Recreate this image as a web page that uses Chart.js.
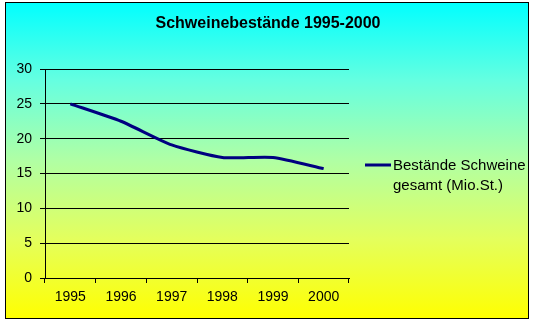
<!DOCTYPE html>
<html>
<head>
    <meta charset="UTF-8">
    <title>Schweinebestände</title>
    <script src="https://cdn.jsdelivr.net/npm/chart.js"></script>
    <style>
        body { margin: 0; background: #fff; }
    </style>
</head>
<body>
<canvas id="schweine" width="536" height="327"></canvas>
<script>
    // Bestände in Mio. Stück
    const years = ['1995', '1996', '1997', '1998', '1999', '2000'];
    const bestand = [25.0, 22.5, 19.1, 17.3, 17.3, 15.7];
    const yTicks = [0, 5, 10, 15, 20, 25, 30];
    const titleText = 'Schweinebestände 1995-2000';
    const legendLines = ['Bestände Schweine', 'gesamt (Mio.St.)'];

    const fontFamily = "'Liberation Sans', Arial, sans-serif";
    const lineColor = '#000080';

    // Rahmen mit Verlauf, Titel und Legende
    const decor = {
        id: 'decor',
        beforeDraw(chart) {
            const ctx = chart.ctx;
            ctx.save();
            const g = ctx.createLinearGradient(0, 2, 0, 319);
            g.addColorStop(0, '#00ffff');
            g.addColorStop(0.25, '#66ffe0');
            g.addColorStop(0.5, '#b0ffa4');
            g.addColorStop(0.75, '#e4ff5c');
            g.addColorStop(1, '#ffff00');
            ctx.fillStyle = g;
            ctx.fillRect(5, 2, 524, 317);
            ctx.strokeStyle = '#000';
            ctx.lineWidth = 1;
            ctx.strokeRect(5.5, 2.5, 523, 316);
            ctx.restore();
        },
        afterDraw(chart) {
            const ctx = chart.ctx;
            ctx.save();
            ctx.fillStyle = '#000';
            ctx.font = 'bold 16px ' + fontFamily;
            ctx.textAlign = 'center';
            ctx.textBaseline = 'middle';
            ctx.fillText(titleText, 268, 24);

            ctx.strokeStyle = lineColor;
            ctx.lineWidth = 3;
            ctx.beginPath();
            ctx.moveTo(365, 165);
            ctx.lineTo(391, 165);
            ctx.stroke();

            ctx.font = '15px ' + fontFamily;
            ctx.textAlign = 'left';
            legendLines.forEach((t, i) => ctx.fillText(t, 393, 166 + i * 20));
            ctx.restore();
        }
    };

    const config = {
        type: 'line',
        data: {
            labels: years,
            datasets: [{
                label: legendLines.join(' '),
                data: bestand,
                borderColor: lineColor,
                borderWidth: 3,
                pointRadius: 0,
                tension: 0.2,
                fill: false
            }]
        },
        options: {
            responsive: false,
            animation: false,
            layout: { padding: { top: 69, right: 187, left: 0, bottom: 0 } },
            plugins: {
                legend: { display: false },
                title: { display: false },
                tooltip: { enabled: false }
            },
            scales: {
                x: {
                    offset: true,
                    afterFit: s => { s.height = 49; },
                    grid: {
                        offset: true,
                        drawOnChartArea: false,
                        drawTicks: true,
                        tickLength: 5,
                        color: '#000'
                    },
                    border: { color: '#000', width: 1 },
                    ticks: {
                        color: '#000',
                        padding: 6,
                        maxRotation: 0,
                        font: { family: fontFamily, size: 14 }
                    }
                },
                y: {
                    min: 0,
                    max: 30,
                    afterFit: s => { s.width = 45; },
                    afterBuildTicks: s => { s.ticks = yTicks.map(v => ({ value: v })); },
                    grid: {
                        color: '#000',
                        lineWidth: 1,
                        tickLength: 5
                    },
                    border: { color: '#000', width: 1 },
                    ticks: {
                        color: '#000',
                        padding: 8,
                        font: { family: fontFamily, size: 14 }
                    }
                }
            }
        },
        plugins: [decor]
    };

    new Chart(document.getElementById('schweine').getContext('2d'), config);
</script>
</body>
</html>
